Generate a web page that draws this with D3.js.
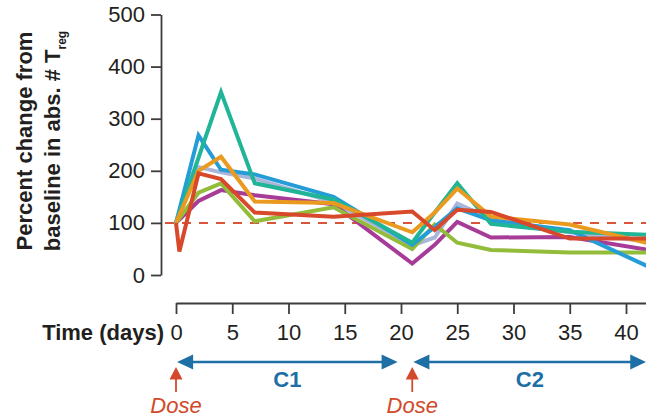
<!DOCTYPE html>
<html>
<head>
<meta charset="utf-8">
<script src="https://cdn.jsdelivr.net/npm/d3@7"></script>
<style>
  html, body { margin: 0; padding: 0; background: #fff; }
  svg { display: block; }
</style>
</head>
<body>
<div id="chart"></div>
<script>
// sampling days (0.3 = the early post-dose sample, only the red patient has it)
const days = [0, 0.3, 2, 4, 7, 14, 21, 23, 25, 28, 35, 42];

// percent change from baseline, one array per patient
const lavender = [100, null, 207, 197, 185, 140, 57, 72, 137, 108, 82, 64];
const purple   = [100, null, 142, 163, 153, 136, 22, 58, 102, 72, 73, 48];
const green    = [100, null, 158, 176, 103, 130, 50, 97, 62, 48, 43, 43];
const blue     = [100, null, 268, 202, 193, 150, 58, 92, 128, 105, 86, 16];
const teal     = [100, null, 225, 351, 176, 145, 62, 120, 176, 98, 83, 77];
const orange   = [100, null, 200, 227, 141, 138, 82, 120, 166, 112, 97, 61];
const red      = [100, 45, 195, 184, 120, 112, 122, 86, 125, 121, 70, 70];

const yTicks = [0, 100, 200, 300, 400, 500];
const xTicks = [0, 5, 10, 15, 20, 25, 30, 35, 40];
const baseline = 100;

const doseDays = [0, 21];
const cycleNames = ["C1", "C2"];
const cycleStart = [0.1, 21.1];
const cycleEnd = [19.7, 41.8];

const width = 646;
const height = 418;
const font = "'Liberation Sans', Arial, Helvetica, sans-serif";
const textColor = "#231f20";
const axisColor = "#3c3c3c";
const doseColor = "#d24a2b";
const cycleColor = "#1d6fa6";

const series = [
    { values: lavender, color: "#aab5dc" },
    { values: purple, color: "#a63b98" },
    { values: green, color: "#93bc3b" },
    { values: blue, color: "#239cd8" },
    { values: teal, color: "#1fb596" },
    { values: orange, color: "#eb9a20" },
    { values: red, color: "#d8482a" }
];

const x = d3.scaleLinear().domain([0, 42]).range([176, 176 + 42 * 11.25]);
const y = d3.scaleLinear().domain([0, 500]).range([275, 14.5]);

const svg = d3.select("#chart").append("svg")
    .attr("width", width)
    .attr("height", height)
    .style("font-family", font);

// y axis
svg.append("g")
    .attr("transform", "translate(161,0)")
    .call(d3.axisLeft(y).tickValues(yTicks).tickSize(10).tickSizeOuter(0).tickPadding(6))
    .call(g => g.attr("font-size", 22).attr("font-family", font))
    .call(g => g.selectAll("text").attr("fill", textColor))
    .call(g => g.selectAll("path, line").attr("stroke", axisColor).attr("stroke-width", 1.8));

// x axis (offset below the plot)
svg.append("g")
    .attr("transform", "translate(0,303)")
    .call(d3.axisBottom(x).tickValues(xTicks).tickSize(11).tickSizeOuter(0).tickPadding(10))
    .call(g => g.attr("font-size", 22).attr("font-family", font))
    .call(g => g.selectAll("text").attr("fill", textColor))
    .call(g => g.selectAll("path, line").attr("stroke", axisColor).attr("stroke-width", 1.8));

svg.append("text")
    .attr("x", 164)
    .attr("y", 340)
    .attr("text-anchor", "end")
    .attr("font-size", 22)
    .attr("font-weight", "bold")
    .attr("fill", textColor)
    .text("Time (days)");

// y axis title, two rotated lines
const title = svg.append("g")
    .attr("font-size", 22)
    .attr("font-weight", "bold")
    .attr("fill", textColor)
    .attr("text-anchor", "middle");

title.append("text")
    .attr("transform", "translate(32,141) rotate(-90)")
    .text("Percent change from");

const t2 = title.append("text")
    .attr("transform", "translate(60,141) rotate(-90)");
t2.append("tspan").text("baseline in abs. # T");
t2.append("tspan").attr("font-size", 12).attr("dy", 6).text("reg");

// dashed baseline at 100 %
svg.append("line")
    .attr("x1", 165)
    .attr("x2", width)
    .attr("y1", y(baseline))
    .attr("y2", y(baseline))
    .attr("stroke", "#d9553a")
    .attr("stroke-width", 2)
    .attr("stroke-dasharray", "9,8");

const line = d3.line()
    .x(d => x(d[0]))
    .y(d => y(d[1]));

svg.append("g")
    .selectAll("path")
    .data(series)
    .join("path")
    .attr("fill", "none")
    .attr("stroke", d => d.color)
    .attr("stroke-width", 4)
    .attr("stroke-linejoin", "miter")
    .attr("d", d => line(days.map((day, i) => [day, d.values[i]]).filter(p => p[1] != null)));

// treatment cycles: double headed arrows
const arrowY = 362;
const head = 16;
cycleNames.forEach((name, i) => {
    const x0 = x(cycleStart[i]);
    const x1 = x(cycleEnd[i]);
    svg.append("line")
        .attr("x1", x0 + head - 2)
        .attr("x2", x1 - head + 2)
        .attr("y1", arrowY)
        .attr("y2", arrowY)
        .attr("stroke", cycleColor)
        .attr("stroke-width", 2.5);
    svg.append("path")
        .attr("d", `M${x0},${arrowY}l${head},-7.5v15z`)
        .attr("fill", cycleColor);
    svg.append("path")
        .attr("d", `M${x1},${arrowY}l${-head},-7.5v15z`)
        .attr("fill", cycleColor);
    svg.append("text")
        .attr("x", (x0 + x1) / 2)
        .attr("y", 387)
        .attr("text-anchor", "middle")
        .attr("font-size", 22)
        .attr("font-weight", "bold")
        .attr("fill", cycleColor)
        .text(name);
});

// dose markers
doseDays.forEach(day => {
    const dx = x(day);
    svg.append("path")
        .attr("d", `M${dx},367l6.5,12.5h-13z`)
        .attr("fill", doseColor);
    svg.append("line")
        .attr("x1", dx)
        .attr("x2", dx)
        .attr("y1", 378)
        .attr("y2", 392)
        .attr("stroke", doseColor)
        .attr("stroke-width", 1.8);
    svg.append("text")
        .attr("x", dx)
        .attr("y", 413)
        .attr("text-anchor", "middle")
        .attr("font-size", 22)
        .attr("font-style", "italic")
        .attr("fill", doseColor)
        .text("Dose");
});
</script>
</body>
</html>
